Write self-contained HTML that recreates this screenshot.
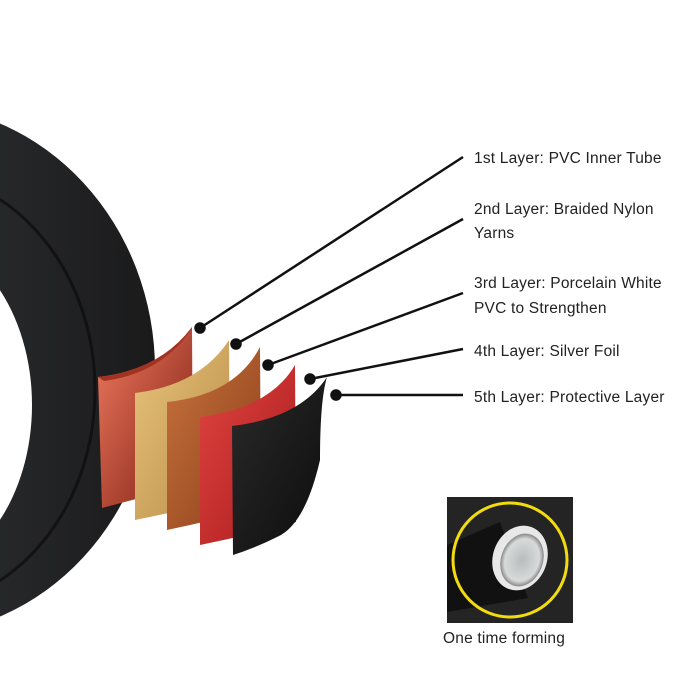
<!DOCTYPE html>
<html><head><meta charset="utf-8"><style>
html,body{margin:0;padding:0;background:#fff;width:684px;height:684px;overflow:hidden}
svg{display:block}
text{font-family:"Liberation Sans",sans-serif;font-size:15.5px;letter-spacing:0.2px;fill:#222}
</style></head><body>
<svg width="684" height="684" viewBox="0 0 684 684" xmlns="http://www.w3.org/2000/svg">
<defs>
<linearGradient id="hose" x1="0" y1="0" x2="1" y2="0">
<stop offset="0" stop-color="#111"/><stop offset="0.6" stop-color="#2a2b2d"/><stop offset="1" stop-color="#1a1a1b"/>
</linearGradient>
<linearGradient id="p1" x1="0" y1="0" x2="1" y2="1"><stop offset="0" stop-color="#f07a60"/><stop offset="1" stop-color="#7a1c10"/></linearGradient>
<linearGradient id="p2" x1="0" y1="0" x2="1" y2="1"><stop offset="0" stop-color="#e8c47a"/><stop offset="1" stop-color="#b88a48"/></linearGradient>
<linearGradient id="p3" x1="0" y1="0" x2="1" y2="1"><stop offset="0" stop-color="#c8733e"/><stop offset="1" stop-color="#8a3d18"/></linearGradient>
<linearGradient id="p4" x1="0" y1="0" x2="1" y2="1"><stop offset="0" stop-color="#e04440"/><stop offset="1" stop-color="#a81a1c"/></linearGradient>
<linearGradient id="p5" x1="0" y1="0" x2="1" y2="1"><stop offset="0" stop-color="#2a2a2a"/><stop offset="1" stop-color="#0c0c0c"/></linearGradient>
<radialGradient id="bore" cx="0.5" cy="0.5" r="0.5"><stop offset="0" stop-color="#b8bcbc"/><stop offset="0.8" stop-color="#d8dada"/><stop offset="1" stop-color="#888"/></radialGradient>
</defs>
<path fill-rule="evenodd" fill="url(#hose)" d="M -90 105 A 245 265 0 0 1 -90 635 A 245 265 0 0 1 -90 105 Z M -90 235 A 122 170 0 0 0 -90 575 A 122 170 0 0 0 -90 235 Z"/>
<ellipse cx="-90" cy="390" rx="185" ry="218" fill="none" stroke="#0c0c0c" stroke-width="3" opacity="0.7"/>
<path d="M98 377 Q160 370 192 327 L193 485 Q150 495 102 508 Z" fill="url(#p1)"/>
<path d="M98 377 Q160 370 192 327 L188 334 Q158 374 104 381 Z" fill="#a23322"/>
<path d="M135 393 Q200 385 229 340 L230 498 Q185 510 135 520 Z" fill="url(#p2)"/>
<path d="M167 402 Q235 395 260 347 L261 508 Q215 520 167 530 Z" fill="url(#p3)"/>
<path d="M200 417 Q270 408 295 365 L296 522 Q250 535 200 545 Z" fill="url(#p4)"/>
<path d="M232 426 Q300 418 327 377 Q320 400 320 460 Q305 525 277 537 Q255 548 233 555 Z" fill="url(#p5)"/>
<g stroke="#111" stroke-width="2.5" fill="#111">
<line x1="200" y1="328" x2="463" y2="157"/>
<line x1="236" y1="344" x2="463" y2="219"/>
<line x1="268" y1="365" x2="463" y2="293"/>
<line x1="310" y1="379" x2="463" y2="349"/>
<line x1="336" y1="395" x2="463" y2="395"/>
<circle cx="200" cy="328" r="4.5"/><circle cx="236" cy="344" r="4.5"/><circle cx="268" cy="365" r="4.5"/><circle cx="310" cy="379" r="4.5"/><circle cx="336" cy="395" r="4.5"/>
</g>
<text x="474" y="163">1st Layer: PVC Inner Tube</text>
<text x="474" y="214">2nd Layer: Braided Nylon</text>
<text x="474" y="238">Yarns</text>
<text x="474" y="288">3rd Layer: Porcelain White</text>
<text x="474" y="313">PVC to Strengthen</text>
<text x="474" y="356">4th Layer: Silver Foil</text>
<text x="474" y="402">5th Layer: Protective Layer</text>
<rect x="447" y="497" width="126" height="126" fill="#242424"/>
<path d="M447 545 L500 522 L528 598 L447 612 Z" fill="#111"/>
<ellipse cx="520" cy="558" rx="27" ry="33" transform="rotate(20 520 558)" fill="#e8e8e8"/>
<ellipse cx="522" cy="560" rx="21" ry="27" transform="rotate(20 522 560)" fill="url(#bore)"/>
<circle cx="510" cy="560" r="57" fill="none" stroke="#f2dc10" stroke-width="3"/>
<text x="443" y="643">One time forming</text>
</svg>
</body></html>
